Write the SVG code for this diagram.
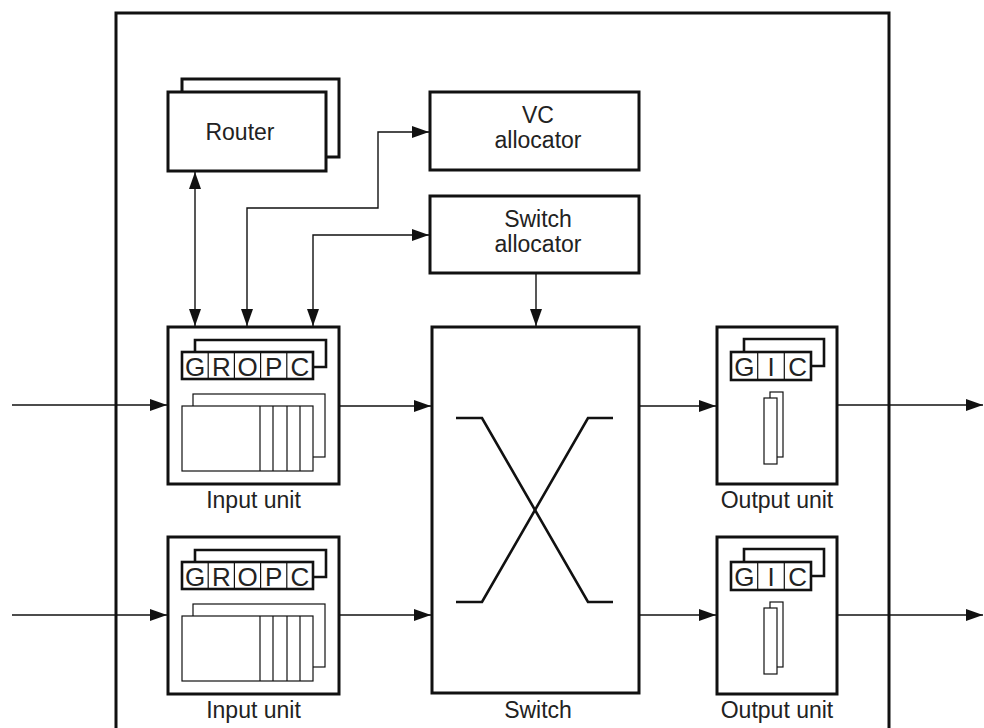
<svg xmlns="http://www.w3.org/2000/svg" width="984" height="728" viewBox="0 0 984 728">
<style>
.box{fill:#fff;stroke:#111;stroke-width:3}
.reg{fill:#fff;stroke:#111;stroke-width:2.6}
.regb{fill:none;stroke:#111;stroke-width:2.6}
.thin{fill:#fff;stroke:#111;stroke-width:1.2}
.div{stroke:#111;stroke-width:1.2}
.con{fill:none;stroke:#111;stroke-width:1.4}
.lbl{font-family:"Liberation Sans",Arial,Helvetica,sans-serif;font-size:23px;fill:#222;text-anchor:middle}
.ltr{font-family:"Liberation Sans",Arial,Helvetica,sans-serif;font-size:26px;fill:#222;text-anchor:middle}
.xs{fill:none;stroke:#111;stroke-width:2.6}
</style>
<defs>
<marker id="ah" markerUnits="userSpaceOnUse" markerWidth="18" markerHeight="13" refX="17" refY="6" orient="auto-start-reverse" viewBox="0 0 18 12">
<path d="M0,0 L17,6 L0,12 z" fill="#111"/>
</marker>
</defs>
<rect width="984" height="728" fill="#fff"/>
<g id="frame"><path d="M116,732 V13 H889 V732" fill="none" stroke="#111" stroke-width="3"/></g>

<g id="router">
<rect class="box" x="182" y="79" width="157" height="78"/>
<rect class="box" x="168" y="92" width="158" height="79"/>
<text class="lbl" x="240" y="140">Router</text>
</g>

<g id="vc-allocator">
<rect class="box" x="430" y="92" width="209" height="78"/>
<text class="lbl" x="538" y="123">VC</text>
<text class="lbl" x="538" y="148">allocator</text>
</g>

<g id="switch-allocator">
<rect class="box" x="430" y="196" width="209" height="77"/>
<text class="lbl" x="538" y="227">Switch</text>
<text class="lbl" x="538" y="252">allocator</text>
</g>

<g id="input-unit-1">
<rect class="box" x="168" y="327" width="171" height="157"/>
<path class="regb" d="M195,352 V340 H326 V367 H313"/>
<rect class="reg" x="182" y="352" width="131" height="27"/>
<path class="div" d="M208.2,352 V379 M234.4,352 V379 M260.6,352 V379 M286.8,352 V379"/>
<text class="ltr" x="195.1" y="375.5">G</text>
<text class="ltr" x="221.3" y="375.5">R</text>
<text class="ltr" x="247.5" y="375.5">O</text>
<text class="ltr" x="273.7" y="375.5">P</text>
<text class="ltr" x="299.9" y="375.5">C</text>
<rect class="thin" x="193" y="394" width="132" height="63"/>
<rect class="thin" x="182" y="406" width="131" height="65"/>
<path class="div" d="M260,406 V471 M273,406 V471 M287,406 V471 M300,406 V471"/>
<text class="lbl" x="253.5" y="508">Input unit</text>
</g>

<g id="input-unit-2" transform="translate(0,210)">
<rect class="box" x="168" y="327" width="171" height="157"/>
<path class="regb" d="M195,352 V340 H326 V367 H313"/>
<rect class="reg" x="182" y="352" width="131" height="27"/>
<path class="div" d="M208.2,352 V379 M234.4,352 V379 M260.6,352 V379 M286.8,352 V379"/>
<text class="ltr" x="195.1" y="375.5">G</text>
<text class="ltr" x="221.3" y="375.5">R</text>
<text class="ltr" x="247.5" y="375.5">O</text>
<text class="ltr" x="273.7" y="375.5">P</text>
<text class="ltr" x="299.9" y="375.5">C</text>
<rect class="thin" x="193" y="394" width="132" height="63"/>
<rect class="thin" x="182" y="406" width="131" height="65"/>
<path class="div" d="M260,406 V471 M273,406 V471 M287,406 V471 M300,406 V471"/>
<text class="lbl" x="253.5" y="508">Input unit</text>
</g>

<g id="switch">
<rect class="box" x="432" y="327" width="207" height="366"/>
<path class="xs" d="M456,418 H482 L588,602 H613"/>
<path class="xs" d="M613,418 H588 L482,602 H456"/>
<text class="lbl" x="538" y="718">Switch</text>
</g>

<g id="output-unit-1">
<rect class="box" x="717" y="327" width="120" height="157"/>
<path class="regb" d="M744,352 V339 H824 V366 H811"/>
<rect class="reg" x="731" y="352" width="80" height="28"/>
<path class="div" d="M757.7,352 V380 M784.3,352 V380"/>
<text class="ltr" x="744.3" y="375.5">G</text>
<text class="ltr" x="771" y="375.5">I</text>
<text class="ltr" x="797.7" y="375.5">C</text>
<rect class="thin" x="770" y="392" width="13" height="65"/>
<rect class="thin" x="764" y="398" width="13" height="66"/>
<text class="lbl" x="777" y="508">Output unit</text>
</g>

<g id="output-unit-2" transform="translate(0,210)">
<rect class="box" x="717" y="327" width="120" height="157"/>
<path class="regb" d="M744,352 V339 H824 V366 H811"/>
<rect class="reg" x="731" y="352" width="80" height="28"/>
<path class="div" d="M757.7,352 V380 M784.3,352 V380"/>
<text class="ltr" x="744.3" y="375.5">G</text>
<text class="ltr" x="771" y="375.5">I</text>
<text class="ltr" x="797.7" y="375.5">C</text>
<rect class="thin" x="770" y="392" width="13" height="65"/>
<rect class="thin" x="764" y="398" width="13" height="66"/>
<text class="lbl" x="777" y="508">Output unit</text>
</g>

<g id="connectors">
<path class="con" d="M12,405 H167" marker-end="url(#ah)"/>
<path class="con" d="M12,615 H167" marker-end="url(#ah)"/>
<path class="con" d="M339,406 H431" marker-end="url(#ah)"/>
<path class="con" d="M339,615 H431" marker-end="url(#ah)"/>
<path class="con" d="M639,406 H716" marker-end="url(#ah)"/>
<path class="con" d="M639,615 H716" marker-end="url(#ah)"/>
<path class="con" d="M837,405 H983" marker-end="url(#ah)"/>
<path class="con" d="M837,615 H983" marker-end="url(#ah)"/>
<path class="con" d="M195,172 V326" marker-start="url(#ah)" marker-end="url(#ah)"/>
<path class="con" d="M247,326 V208 H378 V132 H429" marker-start="url(#ah)" marker-end="url(#ah)"/>
<path class="con" d="M313,326 V235 H429" marker-start="url(#ah)" marker-end="url(#ah)"/>
<path class="con" d="M536,274 V326" marker-end="url(#ah)"/>
</g>
</svg>
